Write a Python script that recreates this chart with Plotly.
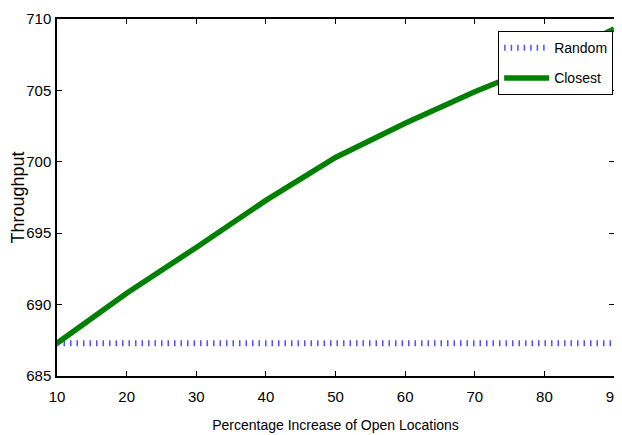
import plotly.graph_objects as go

# Data
pct_increase = [10, 20, 30, 40, 50, 60, 70, 80, 90]
random_tp = [687.3, 687.3, 687.3, 687.3, 687.3, 687.3, 687.3, 687.3, 687.3]
closest_tp = [687.3, 690.8, 694.0, 697.3, 700.3, 702.7, 704.9, 706.9, 709.3]
x_ticks = [10, 20, 30, 40, 50, 60, 70, 80, 90]
y_ticks = [685, 690, 695, 700, 705, 710]

SANS = "Liberation Sans, Arial, sans-serif"

fig = go.Figure()
fig.add_trace(go.Scatter(
    x=pct_increase, y=random_tp, mode="lines", name="Random",
    line=dict(color="rgb(80,80,255)", width=6, dash="1.5px,5px"),
    legendgroup="a",
))
fig.add_trace(go.Scatter(
    x=pct_increase, y=closest_tp, mode="lines", name="Closest",
    line=dict(color="#008000", width=5.5),
    legendgroup="b",
))

axis_common = dict(
    showgrid=False, zeroline=False, automargin=False,
    showline=True, linecolor="black", linewidth=1.5,
    mirror="ticks", ticks="inside", ticklen=5, tickcolor="black", tickwidth=1,
    tickfont=dict(family=SANS, size=15, color="black"),
    ticklabeloverflow="allow",
)

# The page body has an 8px margin, so the figure is sized to the visible area.
fig.update_layout(
    width=614, height=427,
    margin=dict(l=49, r=8, t=11, b=59),
    paper_bgcolor="white", plot_bgcolor="white",
    xaxis=dict(range=[10, 90], tickvals=x_ticks, ticklabelstandoff=6,
               title=dict(text="Percentage Increase of Open Locations",
                          font=dict(family=SANS, size=14, color="black"),
                          standoff=16),
               **axis_common),
    yaxis=dict(range=[685, 710], tickvals=y_ticks, ticklabelstandoff=1,
               title=dict(text="Throughput",
                          font=dict(family=SANS, size=18, color="black"),
                          standoff=3),
               **axis_common),
    legend=dict(x=0.792, y=0.966, xanchor="left", yanchor="top",
                bgcolor="white", bordercolor="black", borderwidth=1,
                font=dict(family=SANS, size=14, color="black"),
                itemwidth=45, tracegroupgap=9),
    showlegend=True,
)

fig.write_html("out.html")
